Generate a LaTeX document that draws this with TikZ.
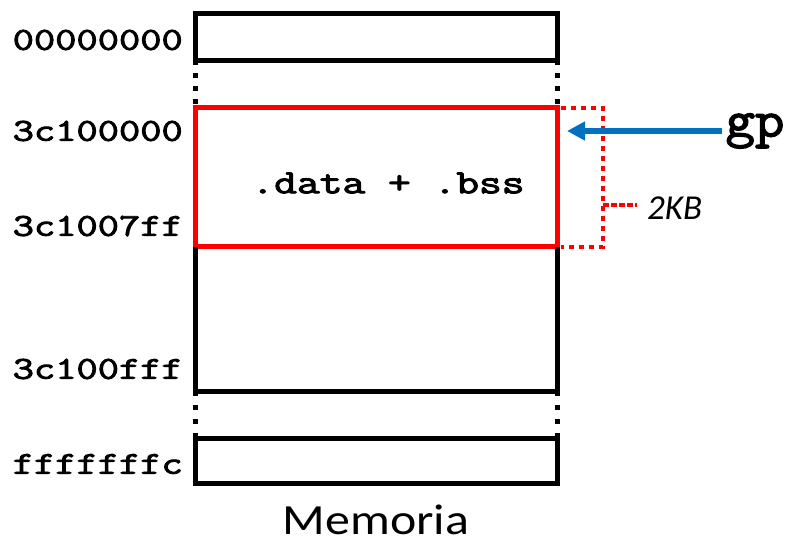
\documentclass[tikz,border=0pt]{standalone}
\usepackage{fontspec}
\setsansfont{Carlito}
\newfontfamily\addrfont[FakeBold=2.5]{Latin Modern Mono}
\usepackage{graphicx}
\usepackage{tikz}
\usetikzlibrary{positioning,arrows.meta}
\definecolor{memred}{HTML}{FF0000}
\definecolor{gpblue}{HTML}{0070C0}
\newcommand{\widetext}[2]{\scalebox{#1}[1]{#2}}

\begin{document}
\begin{tikzpicture}[x=1pt, y=-1pt,
    addr/.style={font=\addrfont\fontsize{32}{32}\selectfont, anchor=east, inner sep=0pt},
    cell/.style={draw, line width=5pt, minimum width=362pt, inner sep=0pt, outer sep=0pt},
    gapdots/.style={line width=5pt, dash pattern=on 5pt off 8pt},
    reddots/.style={memred, line width=4pt, dash pattern=on 5pt off 5pt},
    tick/.style={memred, line width=4pt, dash pattern=on 6pt off 2pt}]
  \useasboundingbox (0,0) rectangle (790,546);
  \node[cell, minimum height=47pt] (first) at (376,36.5) {};
  \node[cell, draw=memred, minimum height=139pt] (data) at (376,177) {};
  \node[font=\addrfont\fontsize{34}{34}\selectfont] (sect) at (388,183) {\widetext{1.3}{.data + .bss}};
  \node[cell, minimum height=45pt] (last) at (376,460.5) {};
  \coordinate (endl) at (195,391);
  \coordinate (endr) at (557,391);
  \draw[line width=5pt] (data.south west) -- (endl) -- (endr) -- (data.south east);
  \draw[gapdots] (first.south west) -- (data.north west);
  \draw[gapdots] (first.south east) -- (data.north east);
  \draw[gapdots, dash pattern=on 5pt off 9pt] (endl) -- (last.north west);
  \draw[gapdots, dash pattern=on 5pt off 9pt] (endr) -- (last.north east);
  \node[addr] (a0) at (183,40) {\widetext{1.29}{00000000}};
  \node[addr] (a1) at (183,131) {\widetext{1.29}{3c100000}};
  \node[addr] (a2) at (183,226) {\widetext{1.29}{3c1007ff}};
  \node[addr] (a3) at (183,369) {\widetext{1.29}{3c100fff}};
  \node[addr] (a4) at (183,464) {\widetext{1.29}{fffffffc}};
  \draw[reddots] ([xshift=4pt]data.north east) -- ++(42,0) |- ([xshift=4pt]data.south east);
  \coordinate (mid) at (603,205);
  \node[font=\sffamily\itshape\fontsize{35}{35}\selectfont, anchor=west, inner sep=10pt] (kb) at (637,208) {2KB};
  \draw[tick] (mid) -- (mid -| kb.west);
  \node[font=\addrfont\fontsize{52}{52}\selectfont] (gp) at (755,131) {\widetext{1.1}{gp}};
  \draw[gpblue, line width=6pt, -{Triangle[length=18pt, width=18pt]}, shorten >=10pt] (gp.west) -- (gp.west -| data.east);
  \node[font=\sffamily\fontsize{43}{43}\selectfont] (mem) at (376,520) {\widetext{1.16}{Memoria}};
\end{tikzpicture}
\end{document}
